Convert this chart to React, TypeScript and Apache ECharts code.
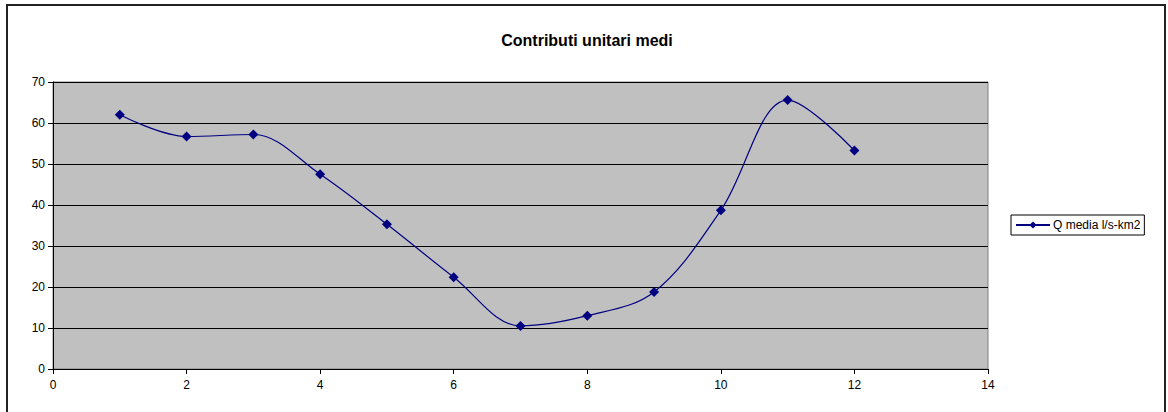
import React, { useEffect, useRef } from "react";
import * as echarts from "echarts";

const months = [1, 2, 3, 4, 5, 6, 7, 8, 9, 10, 11, 12];
const qMedia = [62.0, 56.7, 57.2, 47.5, 35.3, 22.4, 10.5, 13.0, 18.8, 38.7, 65.6, 53.3];
const seriesName = "Q media l/s-km2";
const chartTitle = "Contributi unitari medi";

export default function App() {
  const ref = useRef<HTMLDivElement>(null);
  useEffect(() => {
    if (!ref.current) return;
    const chart = echarts.init(ref.current, null, { renderer: "svg" });
    const font = "Liberation Sans, Arial, sans-serif";
    chart.setOption({
      animation: false,
      backgroundColor: "#ffffff",
      title: {
        text: chartTitle,
        left: 582,
        textAlign: "center",
        top: 27,
        textStyle: { fontFamily: font, fontSize: 16, fontWeight: "bold", color: "#000" },
      },
      grid: {
        left: 53,
        right: 180,
        top: 82,
        bottom: 43,
        show: true,
        backgroundColor: "#c0c0c0",
        borderColor: "#808080",
        borderWidth: 1,
      },
      legend: {
        show: true,
        orient: "vertical",
        left: 1011,
        top: 215,
        borderColor: "#000",
        borderWidth: 1,
        padding: [4, 4, 4, 4],
        itemWidth: 34,
        itemHeight: 9,
        backgroundColor: "#fff",
        textStyle: { fontFamily: font, fontSize: 12, color: "#000", padding: [0, 0, 0, -2] },
        data: [seriesName],
      },
      xAxis: {
        type: "value",
        min: 0,
        max: 14,
        interval: 2,
        axisLine: { show: true, lineStyle: { color: "#000", width: 1 } },
        axisTick: { show: true, length: 5, lineStyle: { color: "#000" } },
        axisLabel: { fontFamily: font, fontSize: 12, color: "#000", margin: 10 },
        splitLine: { show: false },
      },
      yAxis: {
        type: "value",
        min: 0,
        max: 70,
        interval: 10,
        axisLine: { show: true, lineStyle: { color: "#000", width: 1 } },
        axisTick: { show: true, length: 5, lineStyle: { color: "#000" } },
        axisLabel: { fontFamily: font, fontSize: 12, color: "#000", margin: 8 },
        splitLine: { show: true, lineStyle: { color: "#000", width: 1 } },
      },
      graphic: [
        {
          type: "rect",
          shape: { x: 7, y: 5, width: 1158, height: 420 },
          style: { fill: "none", stroke: "#222", lineWidth: 2 },
          silent: true,
        },
      ],
      series: [
        {
          name: seriesName,
          type: "line",
          data: months.map((m, i) => [m, qMedia[i]]),
          smooth: 0.35,
          symbol: "diamond",
          symbolSize: 10,
          itemStyle: { color: "#000080" },
          lineStyle: { color: "#000080", width: 1.2 },
        },
      ],
    });
    return () => chart.dispose();
  }, []);
  return (
    <div
      ref={ref}
      style={{ position: "fixed", left: 0, top: 0, width: 1168, height: 412 }}
    />
  );
}
